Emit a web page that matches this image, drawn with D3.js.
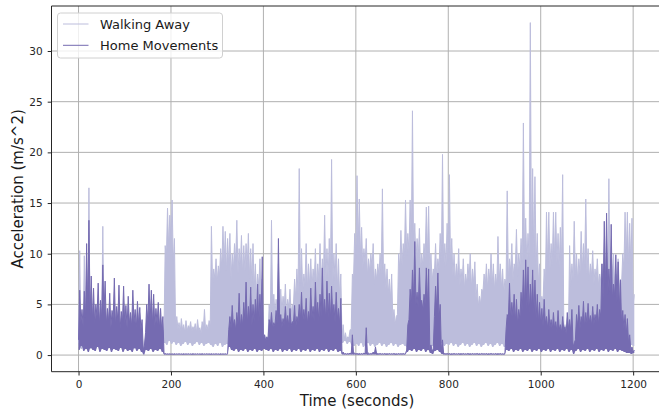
<!DOCTYPE html>
<html>
<head>
<meta charset="utf-8">
<script src="https://cdnjs.cloudflare.com/ajax/libs/d3/7.8.5/d3.min.js"></script>
<style>
  html, body { margin: 0; padding: 0; background: #fff; }
  svg { display: block; font-family: "DejaVu Sans", sans-serif; }
</style>
</head>
<body>
<div id="chart"></div>
<script>
// per 5 second bin (t = 0, 5, ... 1200):
// lo = bottom of the trace, mid = level the trace is solid up to, hi = tallest spike
const binStep = 5;

const walkingHi = [
  10.3, 2.5, 9.8, 2.6, 16.5, 2.8, 2.4, 2.6, 2.5, 2.3, 12.7, 2.7, 2.4, 2.5, 2.2, 2.6, 2.4, 2.5, 2.2, 2.4,
  2.4, 2.5, 2.3, 2.6, 2.4, 2.5, 2.3, 2.2, 0.9, 2.3, 2.5, 2.6, 2.4, 2.3, 2.5, 2.4, 2.2, 10.8, 14.5, 13.8,
  15.3, 11.5, 3.8, 3.2, 3.6, 3.0, 3.4, 2.9, 3.3, 2.8, 3.1, 3.5, 2.7, 3.3, 4.5, 3.0, 3.4, 12.7, 8.5, 9.5,
  8.8, 10.5, 12.7, 12.2, 11.5, 12.0, 10.0, 11.0, 13.3, 10.5, 11.8, 10.8, 11.0, 12.0, 10.5, 11.0, 9.0, 8.0, 9.5, 7.5,
  2.0, 1.8, 5.0, 13.3, 6.0, 5.5, 9.0, 6.5, 5.8, 7.0, 5.5, 6.5, 5.0, 7.5, 8.5, 18.4, 10.5, 8.0, 11.0, 9.0,
  9.5, 8.5, 10.5, 9.0, 11.0, 9.5, 13.8, 10.5, 11.5, 19.3, 10.0, 11.0, 9.5, 8.0, 3.0, 2.2, 1.8, 2.5, 8.0, 12.0,
  17.7, 15.4, 12.6, 10.5, 11.5, 9.5, 10.0, 11.0, 8.5, 9.0, 10.0, 16.4, 9.0, 8.5, 7.5, 8.0, 4.5, 3.8, 10.0, 12.3,
  11.0, 15.3, 12.0, 15.3, 24.1, 13.0, 11.5, 12.5, 10.0, 11.0, 14.6, 14.7, 10.0, 8.5, 11.0, 9.5, 12.0, 19.8, 11.0, 13.0,
  17.8, 11.5, 10.0, 9.0, 10.5, 8.5, 9.5, 8.0, 9.0, 10.0, 8.5, 9.2, 7.0, 5.8, 6.5, 8.0, 9.0, 8.5, 10.0, 9.0,
  8.0, 11.7, 9.0, 8.5, 7.5, 16.2, 9.5, 11.0, 9.0, 12.4, 10.0, 11.5, 22.9, 13.5, 12.0, 32.8, 18.4, 17.6, 12.0, 9.0,
  5.8, 8.5, 14.1, 14.1, 11.0, 14.1, 14.1, 12.0, 12.6, 17.8, 3.0, 2.5, 10.8, 9.0, 13.2, 10.0, 9.5, 12.2, 11.0, 15.4,
  10.5, 9.0, 10.3, 8.5, 9.5, 8.0, 9.0, 8.5, 10.0, 17.4, 9.5, 10.0, 8.0, 9.5, 7.5, 10.0, 14.1, 14.1, 13.0, 13.5,
  6.0
];

const walkingMid = [
  1.2, 2.0, 2.1, 2.2, 2.0, 2.1, 2.0, 2.2, 2.1, 2.0, 2.1, 2.2, 2.0, 2.1, 2.0, 2.2, 2.1, 2.0, 2.1, 2.0,
  2.0, 2.1, 2.0, 2.2, 2.0, 2.1, 2.0, 1.9, 0.6, 1.8, 2.1, 2.2, 2.0, 2.1, 2.0, 2.1, 2.0, 2.5, 9.5, 10.5,
  11.0, 9.0, 2.4, 2.6, 2.3, 2.5, 2.2, 2.4, 2.6, 2.3, 2.5, 2.2, 2.4, 2.1, 2.6, 2.3, 2.5, 3.0, 7.0, 7.5,
  7.2, 7.8, 8.5, 9.0, 8.2, 8.8, 7.5, 8.4, 9.2, 8.0, 8.6, 7.9, 8.3, 8.8, 7.6, 7.2, 6.5, 6.0, 6.8, 5.5,
  1.5, 1.4, 1.6, 3.5, 4.2, 4.0, 4.5, 4.8, 4.3, 4.6, 4.1, 4.7, 4.0, 4.9, 5.5, 6.0, 6.8, 6.2, 7.0, 6.5,
  6.8, 6.4, 7.2, 6.6, 7.5, 6.9, 7.8, 7.2, 7.6, 7.9, 7.0, 7.4, 6.5, 5.5, 1.8, 1.6, 1.5, 1.7, 2.5, 7.5,
  9.5, 10.5, 9.8, 8.5, 9.0, 7.8, 8.2, 8.6, 7.0, 7.4, 7.8, 8.0, 7.2, 6.5, 6.0, 5.5, 3.5, 3.0, 4.0, 8.5,
  8.8, 9.5, 9.8, 10.2, 10.5, 10.0, 9.2, 9.6, 8.4, 8.8, 9.5, 9.8, 8.0, 7.2, 8.0, 7.6, 8.5, 9.0, 8.2, 8.8,
  9.0, 8.5, 7.8, 7.2, 7.6, 6.8, 7.2, 6.5, 7.0, 7.4, 6.6, 7.0, 5.5, 4.8, 5.0, 6.2, 6.8, 6.5, 7.2, 6.9,
  6.4, 6.8, 7.2, 6.6, 6.0, 7.0, 7.5, 8.2, 7.4, 8.5, 7.8, 8.6, 9.2, 9.8, 9.0, 9.5, 10.0, 9.6, 8.5, 7.0,
  5.0, 5.2, 6.5, 9.0, 8.5, 8.8, 9.5, 9.0, 8.6, 9.2, 2.5, 2.0, 2.4, 6.8, 7.5, 7.8, 7.2, 8.0, 8.4, 8.6,
  8.0, 7.4, 7.8, 7.0, 7.5, 6.8, 7.2, 6.9, 7.6, 7.8, 7.5, 7.9, 6.8, 7.2, 6.5, 7.0, 8.5, 9.5, 9.0, 8.8,
  5.0
];

const walkingLo = [
  0.8, 0.6, 0.9, 0.7, 0.8, 0.6, 0.9, 0.7, 0.8, 0.6, 0.7, 0.9, 0.6, 0.8, 0.7, 0.9, 0.6, 0.8, 0.7, 0.9,
  0.6, 0.8, 0.7, 0.9, 0.6, 0.8, 0.7, 0.6, 0.4, 0.8, 0.7, 0.9, 0.6, 0.8, 0.7, 0.9, 0.7, 1.2, 1.0, 1.4,
  1.1, 1.3, 1.0, 1.2, 0.9, 1.1, 1.3, 1.0, 1.2, 0.9, 1.1, 1.3, 1.0, 1.2, 0.9, 1.1, 1.2, 1.0, 0.8, 1.1,
  0.9, 1.2, 0.8, 1.0, 1.1, 0.8, 1.0, 0.9, 1.1, 0.8, 1.0, 0.9, 1.2, 0.8, 1.0, 0.9, 0.8, 1.0, 0.9, 0.8,
  0.9, 0.8, 1.0, 0.7, 0.9, 0.8, 1.0, 0.7, 0.9, 0.8, 1.0, 0.7, 0.9, 0.8, 1.0, 0.7, 0.9, 0.8, 1.0, 0.7,
  0.9, 0.8, 1.0, 0.7, 0.9, 0.8, 1.0, 0.7, 0.9, 0.8, 1.0, 0.7, 0.9, 0.8, 1.2, 1.4, 1.1, 1.3, 1.0, 0.9,
  1.1, 0.9, 1.2, 0.8, 1.0, 1.2, 0.9, 1.1, 0.8, 1.0, 1.2, 0.9, 1.1, 0.8, 1.0, 1.2, 0.9, 1.1, 0.8, 1.0,
  1.1, 0.9, 0.8, 1.0, 0.7, 0.9, 0.8, 1.0, 0.7, 0.9, 0.8, 1.0, 0.7, 0.9, 0.8, 1.0, 0.9, 1.2, 0.9, 1.1,
  1.0, 1.2, 0.9, 1.1, 0.8, 1.0, 1.2, 0.9, 1.1, 0.8, 1.0, 1.2, 0.9, 1.1, 0.8, 1.0, 1.2, 0.9, 1.1, 0.8,
  1.0, 1.2, 0.9, 1.1, 0.8, 0.9, 0.7, 1.0, 0.8, 0.9, 0.7, 1.0, 0.8, 0.9, 0.7, 1.0, 0.8, 0.9, 0.7, 1.0,
  0.8, 0.9, 0.7, 1.0, 0.8, 0.9, 0.7, 1.0, 0.8, 0.9, 0.7, 1.0, 0.8, 0.9, 0.7, 1.0, 0.8, 0.9, 0.7, 1.0,
  0.8, 0.9, 0.7, 1.0, 0.8, 0.9, 0.7, 1.0, 0.8, 0.9, 0.7, 1.0, 0.8, 0.9, 0.7, 1.0, 0.8, 0.9, 0.7, 1.0,
  0.9
];

const homeHi = [
  6.4, 4.5, 6.3, 11.0, 13.3, 7.8, 6.6, 5.0, 7.1, 5.4, 8.9, 7.3, 4.6, 6.1, 4.4, 7.6, 4.8, 6.9, 4.3, 6.8,
  4.9, 5.8, 4.2, 6.4, 4.5, 5.3, 4.7, 3.5, 0.9, 5.0, 7.0, 6.4, 6.0, 4.6, 5.2, 4.6, 3.8, 0.15, 0.12, 0.12,
  0.12, 0.14, 0.12, 0.13, 0.12, 0.14, 0.12, 0.13, 0.12, 0.14, 0.12, 0.13, 0.12, 0.14, 0.12, 0.13, 0.12, 0.14, 0.12, 0.13,
  0.12, 0.14, 0.12, 0.13, 0.12, 3.8, 4.9, 3.5, 4.2, 6.1, 4.0, 5.2, 7.2, 4.8, 6.7, 5.0, 5.5, 7.0, 6.0, 9.7,
  2.0, 1.8, 3.5, 4.2, 3.2, 4.4, 11.5, 4.0, 3.6, 4.8, 3.9, 4.6, 3.3, 4.9, 3.8, 5.0, 6.2, 4.5, 5.6, 4.3,
  6.6, 4.8, 7.2, 5.2, 6.0, 8.6, 5.5, 7.3, 6.1, 6.8, 5.0, 6.2, 4.6, 5.6, 0.3, 0.15, 0.15, 0.2, 2.0, 0.2,
  0.15, 0.15, 0.15, 0.2, 2.7, 0.2, 0.15, 0.3, 0.8, 0.15, 0.15, 0.14, 0.15, 0.13, 0.15, 0.14, 0.15, 0.13, 0.15, 0.14,
  0.15, 0.15, 3.0, 6.5, 8.4, 11.2, 6.2, 8.6, 5.4, 6.0, 8.6, 8.5, 1.0, 0.6, 6.8, 8.1, 5.0, 1.5, 0.15, 0.15,
  0.15, 0.14, 0.15, 0.13, 0.15, 0.14, 0.15, 0.13, 0.15, 0.14, 0.15, 0.13, 0.15, 0.14, 0.15, 0.13, 0.15, 0.14, 0.15, 0.13,
  0.15, 0.14, 0.15, 0.13, 0.15, 4.0, 7.1, 5.2, 6.0, 5.5, 4.5, 6.2, 8.4, 9.4, 8.7, 7.0, 8.4, 7.4, 6.0, 5.2,
  4.6, 5.5, 3.8, 4.5, 3.5, 4.2, 3.3, 4.4, 3.0, 3.8, 2.8, 4.2, 3.5, 4.5, 1.2, 4.0, 4.9, 3.8, 5.3, 4.2,
  5.1, 3.9, 4.8, 4.0, 5.0, 4.5, 9.0, 13.2, 14.0, 8.5, 12.9, 7.0, 9.9, 9.2, 7.4, 4.4, 4.0, 3.6, 2.0, 0.8,
  0.5
];

const homeMid = [
  1.5, 3.2, 2.8, 3.6, 4.5, 4.0, 3.4, 3.0, 3.8, 2.9, 3.5, 4.1, 3.0, 3.3, 2.7, 3.6, 2.9, 3.4, 2.6, 3.2,
  3.0, 2.7, 3.1, 2.8, 3.2, 2.6, 3.0, 2.5, 0.5, 2.2, 3.2, 3.5, 3.0, 2.8, 3.1, 2.6, 2.4, 0.1, 0.1, 0.1,
  0.09, 0.09, 0.09, 0.09, 0.09, 0.09, 0.09, 0.09, 0.09, 0.09, 0.09, 0.09, 0.09, 0.09, 0.09, 0.09, 0.09, 0.09, 0.09, 0.09,
  0.09, 0.09, 0.09, 0.09, 0.09, 2.5, 2.6, 2.9, 2.4, 3.0, 2.7, 2.9, 3.3, 3.0, 3.4, 2.8, 3.2, 3.6, 3.1, 3.5,
  1.6, 1.4, 1.5, 2.8, 2.6, 2.9, 3.1, 3.2, 2.7, 3.0, 3.1, 2.8, 2.9, 3.2, 2.7, 3.3, 3.5, 3.1, 3.4, 3.0,
  3.4, 3.6, 3.2, 3.8, 3.3, 3.7, 3.9, 3.4, 3.6, 3.5, 3.8, 3.2, 3.5, 3.0, 0.15, 0.1, 0.1, 0.1, 0.1, 0.1,
  0.1, 0.1, 0.1, 0.1, 0.1, 0.1, 0.1, 0.1, 0.1, 0.1, 0.1, 0.1, 0.1, 0.1, 0.1, 0.1, 0.1, 0.1, 0.1, 0.1,
  0.1, 0.1, 0.5, 3.5, 4.8, 5.5, 5.0, 4.6, 5.2, 4.4, 5.0, 4.8, 0.6, 0.4, 3.8, 4.5, 3.6, 0.5, 0.1, 0.1,
  0.1, 0.1, 0.1, 0.1, 0.1, 0.1, 0.1, 0.1, 0.1, 0.1, 0.1, 0.1, 0.1, 0.1, 0.1, 0.1, 0.1, 0.1, 0.1, 0.1,
  0.1, 0.1, 0.1, 0.1, 0.1, 2.5, 3.6, 3.3, 3.8, 3.2, 3.0, 3.5, 4.2, 4.8, 4.4, 4.0, 4.6, 3.8, 3.5, 3.2,
  3.0, 2.8, 3.1, 2.6, 2.7, 2.4, 2.6, 2.3, 2.5, 2.2, 2.4, 2.1, 2.5, 2.3, 0.8, 1.5, 2.8, 2.6, 3.0, 2.7,
  3.1, 3.2, 2.9, 3.0, 3.3, 3.0, 3.8, 5.5, 6.5, 6.0, 6.2, 5.5, 5.8, 5.2, 4.5, 3.0, 2.6, 2.0, 1.2, 0.5,
  0.3
];

const homeLo = [
  0.5, 0.9, 0.4, 0.6, 0.3, 0.7, 0.5, 0.4, 0.8, 0.3, 0.6, 0.5, 0.4, 0.7, 0.3, 0.6, 0.5, 0.4, 0.7, 0.3,
  0.6, 0.4, 0.5, 0.3, 0.7, 0.4, 0.6, 0.3, 0.05, 0.5, 0.4, 0.6, 0.3, 0.5, 0.4, 0.6, 0.3, 0.05, 0.05, 0.05,
  0.05, 0.04, 0.05, 0.06, 0.05, 0.04, 0.05, 0.06, 0.05, 0.04, 0.05, 0.06, 0.05, 0.04, 0.05, 0.06, 0.05, 0.04, 0.05, 0.06,
  0.05, 0.04, 0.05, 0.06, 0.05, 0.8, 0.5, 0.4, 0.6, 0.3, 0.5, 0.4, 0.6, 0.3, 0.5, 0.4, 0.6, 0.3, 0.5, 0.4,
  0.6, 0.5, 0.4, 0.6, 0.3, 0.5, 0.4, 0.6, 0.3, 0.5, 0.4, 0.6, 0.3, 0.5, 0.4, 0.6, 0.3, 0.5, 0.4, 0.6,
  0.3, 0.5, 0.4, 0.6, 0.3, 0.5, 0.4, 0.6, 0.3, 0.5, 0.4, 0.6, 0.3, 0.4, 0.05, 0.05, 0.05, 0.05, 0.05, 0.05,
  0.05, 0.04, 0.05, 0.06, 0.05, 0.04, 0.05, 0.06, 0.05, 0.04, 0.05, 0.06, 0.05, 0.04, 0.05, 0.06, 0.05, 0.04, 0.05, 0.06,
  0.05, 0.05, 0.3, 0.5, 0.4, 0.6, 0.3, 0.5, 0.4, 0.6, 0.3, 0.5, 0.2, 0.1, 0.4, 0.5, 0.3, 0.1, 0.05, 0.05,
  0.05, 0.04, 0.05, 0.06, 0.05, 0.04, 0.05, 0.06, 0.05, 0.04, 0.05, 0.06, 0.05, 0.04, 0.05, 0.06, 0.05, 0.04, 0.05, 0.06,
  0.05, 0.04, 0.05, 0.06, 0.05, 0.5, 0.4, 0.6, 0.3, 0.5, 0.4, 0.6, 0.3, 0.5, 0.4, 0.6, 0.3, 0.5, 0.4, 0.6,
  0.3, 0.5, 0.4, 0.6, 0.3, 0.5, 0.4, 0.6, 0.3, 0.5, 0.4, 0.6, 0.3, 0.5, 0.1, 0.4, 0.6, 0.3, 0.5, 0.4,
  0.6, 0.3, 0.5, 0.4, 0.6, 0.3, 0.5, 0.4, 0.6, 0.3, 0.5, 0.4, 0.6, 0.3, 0.5, 0.4, 0.3, 0.2, 0.2, 0.1,
  0.2
];

const xTicks = [0, 200, 400, 600, 800, 1000, 1200];
const yTicks = [0, 5, 10, 15, 20, 25, 30];
const seriesNames = ["Walking Away", "Home Movements"];
const seriesColors = ["#bcbddc", "#756bb1"];

function renderChart() {
    const width = 659;
    const height = 413;
    const left = 51.5, right = 662.5, top = 6, bottom = 371.7;

    const x = d3.scaleLinear().domain([-58.5, 1263.5]).range([left, right]);
    const y = d3.scaleLinear().domain([-1.64, 34.44]).range([bottom, top]);

    const svg = d3.select("#chart")
        .append("svg")
        .attr("width", width)
        .attr("height", height);

    // grid
    const grid = svg.append("g");
    xTicks.forEach(t => {
        grid.append("line")
            .attr("x1", x(t)).attr("x2", x(t))
            .attr("y1", top).attr("y2", bottom)
            .attr("stroke", "#b0b0b0").attr("stroke-width", 1);
    });
    yTicks.forEach(t => {
        grid.append("line")
            .attr("x1", left).attr("x2", right)
            .attr("y1", y(t)).attr("y2", y(t))
            .attr("stroke", "#b0b0b0").attr("stroke-width", 1);
    });

    // each bin: valley (mid) at the bin start, spike (hi) half a bin later, filled down to lo
    function tracePoints(lo, mid, hi) {
        let pts = [];
        lo.forEach((v, i) => {
            const t = i * binStep;
            pts.push({ t: t, v: Math.max(v, mid[i]), lo: v });
            pts.push({ t: t + binStep / 2, v: hi[i], lo: v });
        });
        return pts;
    }

    const line = d3.line()
        .x(d => x(d.t))
        .y(d => y(d.v));

    const band = d3.area()
        .x(d => x(d.t))
        .y0(d => y(d.lo))
        .y1(d => y(d.v));

    const plotArea = svg.append("g");
    [[walkingLo, walkingMid, walkingHi], [homeLo, homeMid, homeHi]].forEach((s, k) => {
        const pts = tracePoints(s[0], s[1], s[2]);
        plotArea.append("path")
            .datum(pts)
            .attr("d", band)
            .attr("fill", seriesColors[k]);
        plotArea.append("path")
            .datum(pts)
            .attr("d", line)
            .attr("fill", "none")
            .attr("stroke", seriesColors[k])
            .attr("stroke-width", 1)
            .attr("stroke-linejoin", "round");
    });

    // spines
    const spine = "#262626";
    svg.append("line").attr("x1", left).attr("x2", left).attr("y1", top).attr("y2", bottom)
        .attr("stroke", spine).attr("stroke-width", 1);
    svg.append("line").attr("x1", left).attr("x2", right).attr("y1", bottom).attr("y2", bottom)
        .attr("stroke", spine).attr("stroke-width", 1);
    svg.append("line").attr("x1", left).attr("x2", right).attr("y1", top).attr("y2", top)
        .attr("stroke", spine).attr("stroke-width", 1);

    // axes
    const xAxis = svg.append("g")
        .attr("transform", `translate(0, ${bottom})`)
        .call(d3.axisBottom(x).tickValues(xTicks).tickSize(3.8).tickPadding(5).tickFormat(d3.format("d")));
    const yAxis = svg.append("g")
        .attr("transform", `translate(${left}, 0)`)
        .call(d3.axisLeft(y).tickValues(yTicks).tickSize(3.8).tickPadding(5).tickFormat(d3.format("d")));

    [xAxis, yAxis].forEach(a => {
        a.select(".domain").remove();
        a.selectAll(".tick line").attr("stroke", spine);
        a.selectAll(".tick text")
            .attr("fill", "#262626")
            .attr("font-size", "10.5px")
            .attr("font-family", "DejaVu Sans, sans-serif");
    });

    svg.append("text")
        .attr("x", (left + right) / 2)
        .attr("y", 405.5)
        .attr("text-anchor", "middle")
        .attr("font-size", "15px")
        .attr("fill", "#1a1a1a")
        .text("Time (seconds)");

    svg.append("text")
        .attr("transform", `translate(22.5, ${(top + bottom) / 2}) rotate(-90)`)
        .attr("text-anchor", "middle")
        .attr("font-size", "15px")
        .attr("fill", "#1a1a1a")
        .text("Acceleration (m/s^2)");

    // legend
    const legend = svg.append("g");
    legend.append("rect")
        .attr("x", 57.5).attr("y", 13)
        .attr("width", 165).attr("height", 45)
        .attr("rx", 3)
        .attr("fill", "white").attr("fill-opacity", 0.8)
        .attr("stroke", "#d0d0d0").attr("stroke-width", 1);

    seriesNames.forEach((name, i) => {
        const ly = 24 + i * 21.3;
        legend.append("line")
            .attr("x1", 63).attr("x2", 88.5)
            .attr("y1", ly).attr("y2", ly)
            .attr("stroke", seriesColors[i]).attr("stroke-width", 1);
        legend.append("text")
            .attr("x", 100)
            .attr("y", ly + 4.7)
            .attr("font-size", "13px")
            .attr("fill", "#1a1a1a")
            .text(name);
    });
}

renderChart();
</script>
</body>
</html>
